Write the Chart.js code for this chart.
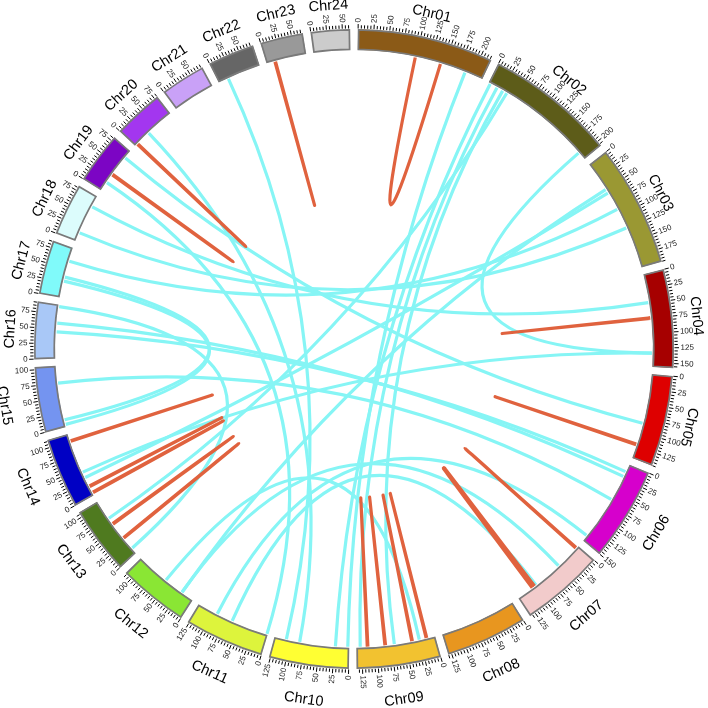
<!DOCTYPE html>
<html><head><meta charset="utf-8">
<script src="https://cdn.jsdelivr.net/npm/chart.js@4.4.1/dist/chart.umd.min.js"></script>
<style>html,body{margin:0;padding:0;background:#fff;}#wrap{width:708px;height:708px;}</style>
</head><body><div id="wrap"><canvas id="c" width="708" height="708"></canvas></div>
<script>
// ---------- data ----------
const chromosomes = ['Chr01','Chr02','Chr03','Chr04','Chr05','Chr06','Chr07','Chr08','Chr09','Chr10','Chr11','Chr12',
  'Chr13','Chr14','Chr15','Chr16','Chr17','Chr18','Chr19','Chr20','Chr21','Chr22','Chr23','Chr24'];
const chromLengths = [217,208,195,157,145,150,134,130,134,127,127,112,108,112,104,91,86,83,82,80,72,74,68,62];
const chromColors = ['#8b5a17','#5d5c19','#9a9833','#a60000','#de0000','#d600cc','#f2cbcb','#e8961f','#f2c230','#ffff33',
  '#ddf43c','#8ae634','#4f7a1f','#0000c4','#7494f0','#a9c8f7','#80fafa','#dcfcfc','#7c05c4','#a336ef','#c9a1f7',
  '#666666','#999999','#cccccc'];
const gapUnits = 13;
const minorTickStep = 5;
const labelTickStep = 25;

// inter-chromosome links (cyan)
const linkChromA = ['Chr01','Chr02','Chr02','Chr02','Chr02','Chr02','Chr03','Chr03','Chr03','Chr04','Chr05','Chr06','Chr06','Chr06','Chr06','Chr07','Chr07','Chr10','Chr10','Chr11','Chr12','Chr13','Chr14','Chr15','Chr15','Chr14'];
const linkPosA   = [186, 3, 16, 27, 35, 194, 50, 89, 124, 48, 84, 13, 22, 66, 140, 47, 97, 84, 107, 1, 56, 10, 43, 4, 12, 33];
const linkChromB = ['Chr10','Chr10','Chr09','Chr09','Chr13','Chr04','Chr12','Chr17','Chr18','Chr18','Chr19','Chr16','Chr16','Chr15','Chr11','Chr12','Chr11','Chr20','Chr22','Chr19','Chr09','Chr16','Chr04','Chr17','Chr17','Chr03'];
const linkPosB   = [2, 23, 128, 70, 74, 134, 22, 63, 15, 64, 68, 45, 60, 75, 92, 22, 64, 31, 17, 16, 27, 88, 134, 28, 35, 57];

// tandem / intra-chromosome links (red)
const tandemChrom = ['Chr01','Chr04','Chr05','Chr07','Chr07','Chr07','Chr09','Chr09','Chr09','Chr09','Chr13','Chr13','Chr14','Chr14','Chr14','Chr19','Chr20','Chr23'];
const tandemPosA  = [98, 74, 121, 4, 100, 104, 14, 39, 85, 115, 32, 62, 4, 16, 99, 32, 4, 14];
const tandemPosB  = [142, 75, 122, 5, 101, 105, 15, 40, 86, 116, 33, 63, 5, 17, 100, 33, 5, 15];

const linkColor = '#86f5f5';
const tandemColor = '#e0623e';

// ---------- doughnut data (chromosomes separated by gaps) ----------
const ringValues = [], ringColors = [], ringBorders = [], ringLabels = [];
ringValues.push(gapUnits / 2); ringColors.push('rgba(0,0,0,0)'); ringBorders.push(0); ringLabels.push('');
chromLengths.forEach((len, i) => {
  ringValues.push(len); ringColors.push(chromColors[i]); ringBorders.push(1.4); ringLabels.push(chromosomes[i]);
  ringValues.push(i === chromLengths.length - 1 ? gapUnits / 2 : gapUnits);
  ringColors.push('rgba(0,0,0,0)'); ringBorders.push(0); ringLabels.push('');
});

function chromArc(chart, name) {
  const idx = chromosomes.indexOf(name);
  const arc = chart.getDatasetMeta(0).data[2 * idx + 1];
  return arc.getProps(['x', 'y', 'startAngle', 'endAngle', 'innerRadius', 'outerRadius'], true);
}
function posAngle(chart, name, pos) {
  const a = chromArc(chart, name);
  const len = chromLengths[chromosomes.indexOf(name)];
  return a.startAngle + (a.endAngle - a.startAngle) * pos / len;
}

const circosPlugin = {
  id: 'circos',
  afterDatasetsDraw(chart) {
    const ctx = chart.ctx;
    const a0 = chromArc(chart, chromosomes[0]);
    const cx = a0.x, cy = a0.y, rIn = a0.innerRadius - 1, rOut = a0.outerRadius;
    const pt = (ang, r) => [cx + r * Math.cos(ang), cy + r * Math.sin(ang)];
    ctx.save();
    const drawLink = (angA, angB, color) => {
      const p1 = pt(angA, rIn), p2 = pt(angB, rIn);
      ctx.beginPath();
      ctx.moveTo(p1[0], p1[1]);
      ctx.quadraticCurveTo(cx, cy, p2[0], p2[1]);
      ctx.strokeStyle = color; ctx.lineWidth = 3.2; ctx.lineCap = 'butt';
      ctx.stroke();
    };
    linkChromA.forEach((c, i) => drawLink(posAngle(chart, c, linkPosA[i]), posAngle(chart, linkChromB[i], linkPosB[i]), linkColor));
    tandemChrom.forEach((c, i) => drawLink(posAngle(chart, c, tandemPosA[i]), posAngle(chart, c, tandemPosB[i]), tandemColor));

    chromosomes.forEach((name, i) => {
      const len = chromLengths[i];
      const arc = chromArc(chart, name);
      ctx.strokeStyle = '#000'; ctx.lineWidth = 1;
      for (let v = 0; v <= len; v += minorTickStep) {
        const ang = posAngle(chart, name, v);
        const major = v % labelTickStep === 0;
        const q1 = pt(ang, rOut + 0.5), q2 = pt(ang, rOut + (major ? 5 : 3.8));
        ctx.beginPath(); ctx.moveTo(q1[0], q1[1]); ctx.lineTo(q2[0], q2[1]); ctx.stroke();
        if (major) {
          const deg = (ang * 180 / Math.PI + 90 + 360) % 360;
          const flip = deg >= 180;
          const q = pt(ang, rOut + 6.5);
          ctx.save();
          ctx.translate(q[0], q[1]);
          ctx.rotate(flip ? ang + Math.PI : ang);
          ctx.font = '8px "Liberation Sans", Arial, sans-serif';
          ctx.fillStyle = '#222';
          ctx.textAlign = flip ? 'right' : 'left';
          ctx.textBaseline = 'middle';
          ctx.fillText(String(v), 0, 0);
          ctx.restore();
        }
      }
      const mid = (arc.startAngle + arc.endAngle) / 2;
      const degMid = (mid * 180 / Math.PI + 90 + 360) % 360;
      const flip = degMid > 108 && degMid < 270;
      const q = pt(mid, flip ? 354 : 344);
      ctx.save();
      ctx.translate(q[0], q[1]);
      ctx.rotate(flip ? mid - Math.PI / 2 : mid + Math.PI / 2);
      ctx.font = '14.5px "Liberation Sans", Arial, sans-serif';
      ctx.fillStyle = '#000';
      ctx.textAlign = 'center';
      ctx.textBaseline = 'middle';
      ctx.fillText(name, 0, 0);
      ctx.restore();
    });
    ctx.restore();
  }
};

new Chart(document.getElementById('c'), {
  type: 'doughnut',
  data: { labels: ringLabels, datasets: [{ data: ringValues, backgroundColor: ringColors,
    borderColor: '#7a7a7a', borderWidth: ringBorders, hoverOffset: 0, borderAlign: 'inner' }] },
  options: {
    responsive: false, devicePixelRatio: 1, animation: false,
    radius: 320, cutout: '93.4%', rotation: 0, circumference: 360,
    layout: { padding: { left: 14, right: 14, top: 9, bottom: 19 } },
    plugins: { legend: { display: false }, tooltip: { enabled: false } },
    events: []
  },
  plugins: [circosPlugin]
});
</script></body></html>
